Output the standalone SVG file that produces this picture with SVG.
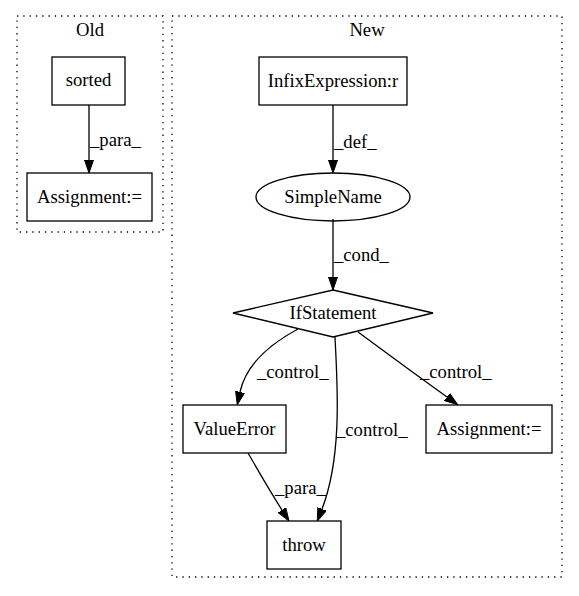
<svg xmlns="http://www.w3.org/2000/svg" width="579" height="596" viewBox="0 0 579 596">
<defs>
<marker id="ah" markerWidth="13" markerHeight="10" refX="0" refY="5" orient="auto" markerUnits="userSpaceOnUse">
<path d="M0,0.5 L13,5 L0,9.5 z" fill="#000" stroke="#000" stroke-width="1"/>
</marker>
<style>
.cl{fill:none;stroke:#000;stroke-dasharray:1.3,5;stroke-width:1.3}
.n{fill:none;stroke:#000;stroke-width:1.3}
text{font-family:"Liberation Serif","Times New Roman",serif;font-size:18.67px;fill:#000}
.c{text-anchor:middle}
.e{fill:none;stroke:#000;stroke-width:1.3;marker-end:url(#ah)}
</style>
</defs>
<rect width="579" height="596" fill="#fff"/>
<g id="cluster_old">
<rect class="cl" x="17" y="16" width="146" height="216"/>
<text class="c" x="90" y="36">Old</text>
</g>
<g id="cluster_new">
<rect class="cl" x="172" y="16" width="390" height="561"/>
<text class="c" x="367" y="36">New</text>
</g>
<g id="connectors">
<path class="e" d="M89,105 L89,160"/>
<text x="90" y="146">_para_</text>
<path class="e" d="M333,105 L333,160"/>
<text x="334" y="148">_def_</text>
<path class="e" d="M333,219 L333,277"/>
<text x="334" y="261">_cond_</text>
<path class="e" d="M298,329 C272,343 246,364 240,392"/>
<text x="257" y="378">_control_</text>
<path class="e" d="M335,337 C337,380 343,455 322,509"/>
<text x="336" y="436">_control_</text>
<path class="e" d="M358,332 C385,352 418,376 447,397"/>
<text x="420" y="378">_control_</text>
<path class="e" d="M248,453 C258,470 268,488 282,510"/>
<text x="275" y="494">_para_</text>
</g>
<g id="sorted">
<rect class="n" x="52" y="57" width="73" height="48"/>
<text class="c" x="88.5" y="86">sorted</text>
</g>
<g id="assign_old">
<rect class="n" x="27" y="173" width="125" height="48"/>
<text class="c" x="89.5" y="202.5">Assignment:=</text>
</g>
<g id="infix">
<rect class="n" x="259" y="57" width="148" height="48"/>
<text class="c" x="333" y="86.5">InfixExpression:r</text>
</g>
<g id="simplename">
<ellipse class="n" cx="333" cy="197" rx="77" ry="24"/>
<text class="c" x="333" y="202.5">SimpleName</text>
</g>
<g id="ifstatement">
<polygon class="n" points="333,290 433,313 333,337 233,313"/>
<text class="c" x="333" y="318.5">IfStatement</text>
</g>
<g id="valueerror">
<rect class="n" x="183" y="405" width="103" height="48"/>
<text class="c" x="234.5" y="434.5">ValueError</text>
</g>
<g id="assign_new">
<rect class="n" x="426" y="405" width="126" height="48"/>
<text class="c" x="489" y="434.5">Assignment:=</text>
</g>
<g id="throw">
<rect class="n" x="267" y="521" width="74" height="48"/>
<text class="c" x="304" y="550.5">throw</text>
</g>
</svg>
